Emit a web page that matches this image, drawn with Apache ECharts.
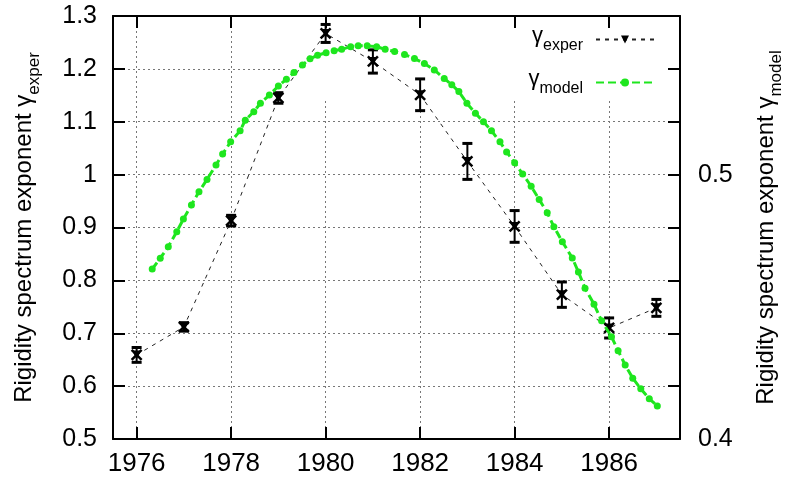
<!DOCTYPE html>
<html>
<head>
<meta charset="utf-8">
<script src="https://cdn.jsdelivr.net/npm/echarts@6/dist/echarts.min.js"></script>
<style>
  html, body { margin: 0; padding: 0; background: #fff; }
  #chart { width: 793px; height: 483px; }
</style>
</head>
<body>
<div id="chart"></div>
<script>
// measured points (left axis)
const years = [1976, 1977, 1978, 1979, 1980, 1981, 1982, 1983, 1984, 1985, 1986, 1987];
const experValues = [0.659, 0.712, 0.913, 1.145, 1.267, 1.214, 1.151, 1.025, 0.902, 0.773, 0.710, 0.748];
const experErrors = [0.014, 0.008, 0.010, 0.010, 0.017, 0.022, 0.030, 0.034, 0.030, 0.024, 0.019, 0.016];

// model curve (right axis)
const modelYears = [
  1976.33, 1976.50, 1976.67, 1976.85, 1976.99, 1977.16, 1977.32, 1977.49, 1977.68, 1977.82,
  1977.99, 1978.19, 1978.30, 1978.48, 1978.62, 1978.81, 1979.00, 1979.17, 1979.33, 1979.51,
  1979.67, 1979.83, 1980.01, 1980.18, 1980.34, 1980.53, 1980.69, 1980.88, 1981.08, 1981.26,
  1981.46, 1981.67, 1981.88, 1982.09, 1982.30, 1982.51, 1982.67, 1982.82, 1982.99, 1983.17,
  1983.34, 1983.51, 1983.69, 1983.83, 1984.00, 1984.17, 1984.35, 1984.52, 1984.69, 1984.83,
  1985.01, 1985.22, 1985.35, 1985.49, 1985.68, 1985.84, 1986.05, 1986.19, 1986.34, 1986.50,
  1986.67, 1986.85, 1987.02
];
const modelValues = [
  0.4643, 0.4684, 0.4727, 0.4784, 0.4832, 0.4885, 0.4935, 0.4982, 0.5036, 0.5078,
  0.5124, 0.5166, 0.5206, 0.5238, 0.5270, 0.5301, 0.5335, 0.5361, 0.5386, 0.5415,
  0.5438, 0.5452, 0.5461, 0.5469, 0.5474, 0.5484, 0.5487, 0.5487, 0.5484, 0.5474,
  0.5466, 0.5454, 0.5439, 0.5420, 0.5396, 0.5364, 0.5340, 0.5314, 0.5270, 0.5232,
  0.5200, 0.5166, 0.5124, 0.5086, 0.5045, 0.5002, 0.4956, 0.4906, 0.4856, 0.4803,
  0.4746, 0.4685, 0.4632, 0.4570, 0.4510, 0.4447, 0.4387, 0.4334, 0.4280, 0.4230,
  0.4190, 0.4152, 0.4125
];

const xTicks = [1976, 1978, 1980, 1982, 1984, 1986];
const y2Ticks = [0.40, 0.42, 0.44, 0.46, 0.48, 0.50, 0.52, 0.54, 0.56];
const y2Labels = [0.4, 0.5];

const FONT = "'Liberation Sans', Arial, sans-serif";
const GREEN = "#1ee61e";

const myChart = echarts.init(document.getElementById("chart"));

const axisLine = { show: true, lineStyle: { color: "#000", width: 2 } };
const tick = { show: true, inside: true, length: 12, lineStyle: { color: "#000", width: 2 } };
const gridLine = { show: true, lineStyle: { color: "#777", width: 1, type: [2, 3] } };

const nameStyle = {
  color: "#000",
  rich: {
    m: { fontSize: 24, fontFamily: FONT, color: "#000", padding: [0, 0, 7, 0] },
    s: { fontSize: 17, fontFamily: FONT, color: "#000", verticalAlign: "bottom" },
  },
};

const option = {
  animation: false,
  backgroundColor: "#fff",
  grid: { left: 113, right: 103, top: 16, bottom: 44 },
  legend: {
    data: ["exper", "model"],
    orient: "vertical",
    align: "right",
    right: 133,
    top: 20,
    itemWidth: 58,
    itemHeight: 10,
    itemGap: 14,
    formatter: (name) => "{g|γ}{s|" + name + "}",
    textStyle: {
      fontFamily: FONT,
      color: "#000",
      rich: {
        g: { fontSize: 22, fontFamily: FONT, padding: [0, 0, 7, 0] },
        s: { fontSize: 16, fontFamily: FONT, verticalAlign: "bottom", padding: [0, 8, 0, 0] },
      },
    },
  },
  xAxis: [
    {
      type: "value",
      min: 1975.5,
      max: 1987.5,
      axisLine: axisLine,
      axisTick: Object.assign({}, tick, { customValues: xTicks }),
      axisLabel: {
        customValues: xTicks,
        formatter: (v) => String(v),
        fontSize: 26,
        fontFamily: FONT,
        color: "#000",
        margin: 12,
      },
      splitLine: gridLine,
    },
    {
      // mirrored border on top, drawn over the key box
      type: "value",
      position: "top",
      min: 1975.5,
      max: 1987.5,
      z: 10,
      axisLine: axisLine,
      axisTick: Object.assign({}, tick, { customValues: xTicks }),
      axisLabel: { show: false },
      splitLine: { show: false },
    },
  ],
  yAxis: [
    {
      type: "value",
      min: 0.5,
      max: 1.3,
      interval: 0.1,
      axisLine: axisLine,
      axisTick: tick,
      axisLabel: { fontSize: 25, fontFamily: FONT, color: "#000", margin: 16 },
      splitLine: gridLine,
      name: "{m|Rigidity spectrum exponent γ}{s|exper}",
      nameLocation: "middle",
      nameGap: 70,
      nameRotate: 90,
      nameTextStyle: nameStyle,
    },
    {
      type: "value",
      position: "right",
      min: 0.4,
      max: 0.56,
      z: 10,
      axisLine: axisLine,
      axisTick: Object.assign({}, tick, { customValues: y2Ticks }),
      axisLabel: {
        customValues: y2Labels,
        fontSize: 25,
        fontFamily: FONT,
        color: "#000",
        margin: 18,
      },
      splitLine: { show: false },
      name: "{m|Rigidity spectrum exponent γ}{s|model}",
      nameLocation: "middle",
      nameGap: 74,
      nameRotate: 90,
      nameTextStyle: nameStyle,
    },
  ],
  series: [
    {
      name: "exper",
      type: "line",
      xAxisIndex: 0,
      yAxisIndex: 0,
      data: years.map((yr, i) => [yr, experValues[i]]),
      symbol: "triangle",
      symbolRotate: 180,
      symbolSize: 9,
      itemStyle: { color: "#000" },
      lineStyle: { color: "#222", width: 1, type: [4, 5] },
      z: 3,
      // opaque key box hides the grid behind the legend
      markArea: {
        silent: true,
        itemStyle: { color: "#fff" },
        data: [[{ xAxis: 1979.17, yAxis: 1.145 }, { xAxis: 1987.5, yAxis: 1.3 }]],
      },
    },
    {
      name: "errors",
      type: "custom",
      xAxisIndex: 0,
      yAxisIndex: 0,
      z: 4,
      data: years.map((yr, i) => [yr, experValues[i], experErrors[i]]),
      encode: { x: 0, y: 1 },
      renderItem: function (params, api) {
        const x = api.value(0);
        const y = api.value(1);
        const e = api.value(2);
        const c = api.coord([x, y]);
        const top = api.coord([x, y + e]);
        const bot = api.coord([x, y - e]);
        const st = { stroke: "#000", lineWidth: 2 };
        const cap = { stroke: "#000", lineWidth: 3 };
        const cross = { stroke: "#000", lineWidth: 2.5 };
        return {
          type: "group",
          children: [
            { type: "line", shape: { x1: c[0], y1: top[1], x2: c[0], y2: bot[1] }, style: st },
            { type: "line", shape: { x1: c[0] - 5, y1: top[1], x2: c[0] + 5, y2: top[1] }, style: cap },
            { type: "line", shape: { x1: c[0] - 5, y1: bot[1], x2: c[0] + 5, y2: bot[1] }, style: cap },
            { type: "line", shape: { x1: c[0] - 5, y1: c[1] - 5, x2: c[0] + 5, y2: c[1] + 5 }, style: cross },
            { type: "line", shape: { x1: c[0] - 5, y1: c[1] + 5, x2: c[0] + 5, y2: c[1] - 5 }, style: cross },
          ],
        };
      },
    },
    {
      name: "model",
      type: "line",
      xAxisIndex: 0,
      yAxisIndex: 1,
      data: modelYears.map((yr, i) => [yr, modelValues[i]]),
      symbol: "circle",
      symbolSize: 7,
      itemStyle: { color: GREEN },
      lineStyle: { color: GREEN, width: 3, type: [8, 4] },
      z: 5,
    },
  ],
};

myChart.setOption(option);
</script>
</body>
</html>
